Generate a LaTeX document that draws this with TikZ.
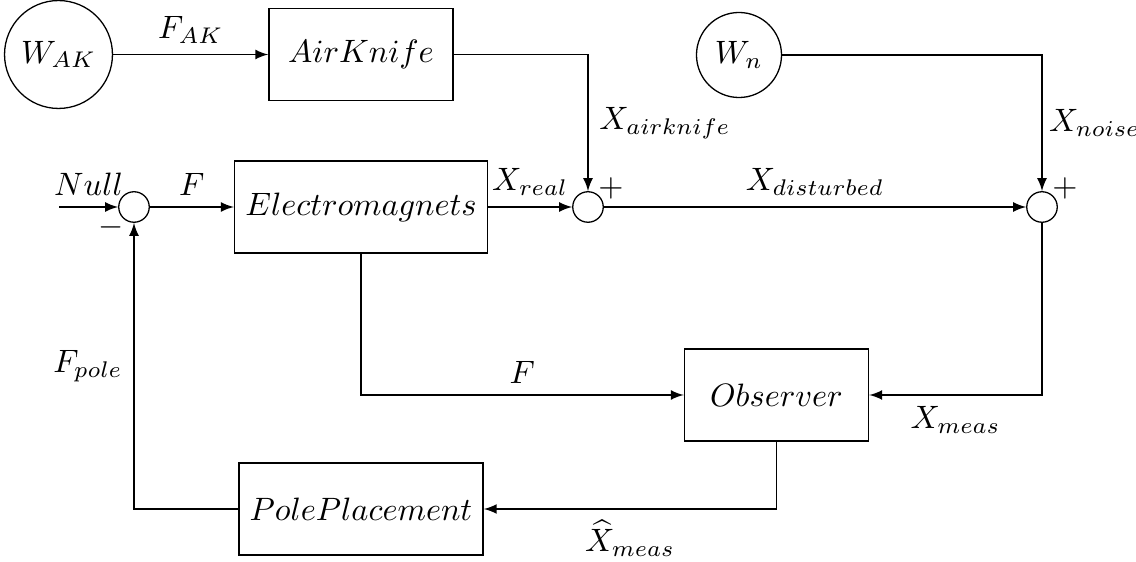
\documentclass[tikz,border=0pt]{standalone}
\DeclareMathSizes{10}{10}{6.8}{5}
\usetikzlibrary{calc}
\begin{document}
\begin{tikzpicture}[x=0.309pt,y=-0.309pt,
  blockbox/.style={draw, rectangle, minimum width=2cm, minimum height=1cm},
  srcnode/.style={draw, circle},
  sumnode/.style={draw, circle},
  conn/.style={-latex},
  signnode/.style={inner sep=0pt}]
\useasboundingbox (0,0) rectangle (1136,562);
\node[srcnode] (wak) at (58.5,54.5) {$W_{AK}$};
\node[blockbox] (ak) at (361,54.5) {$AirKnife$};
\node[srcnode] (wn) at (739,55) {$W_n$};
\node[sumnode] (s0) at (134,207) {};
\node[blockbox] (em) at (361,207) {$Electromagnets$};
\node[sumnode] (s1) at (588,207) {};
\node[sumnode] (s2) at (1042,207) {};
\node[blockbox] (obs) at (776.5,395) {$Observer$};
\node[blockbox] (pp) at (361,509) {$PolePlacement$};
\coordinate (nullin) at (59,207);
\node[signnode] (m0) at ([shift={(-23,20)}]s0.center) {$-$};
\node[signnode] (p1) at ([shift={(23,-19)}]s1.center) {$+$};
\node[signnode] (p2) at ([shift={(23,-19)}]s2.center) {$+$};

\draw[conn] (wak) -- node[above]{$F_{AK}$} (ak);
\draw[conn] (ak.east) -| node[pos=0.75,right]{$X_{airknife}$} (s1.north);
\draw[conn] (wn.east) -| node[pos=0.75,right,inner sep=2pt]{$X_{noise}$} (s2.north);
\draw[conn] (nullin) -- node[above]{$Null$} (s0.west);
\draw[conn] (s0) -- node[above]{$F$} (em);
\draw[conn] (em) -- node[above]{$X_{real}$} (s1);
\draw[conn] (s1) -- node[above]{$X_{disturbed}$} (s2);
\draw[conn] (s2.south) |- node[pos=0.75,below]{$X_{meas}$} (obs.east);
\draw[conn] (em.south) |- node[pos=0.75,above]{$F$} (obs.west);
\draw[conn] (obs.south) |- node[pos=0.75,below]{$\widehat{X}_{meas}$} (pp.east);
\draw[conn] (pp.west) -| node[pos=0.75,left]{$F_{pole}$} (s0.south);
\end{tikzpicture}
\end{document}
